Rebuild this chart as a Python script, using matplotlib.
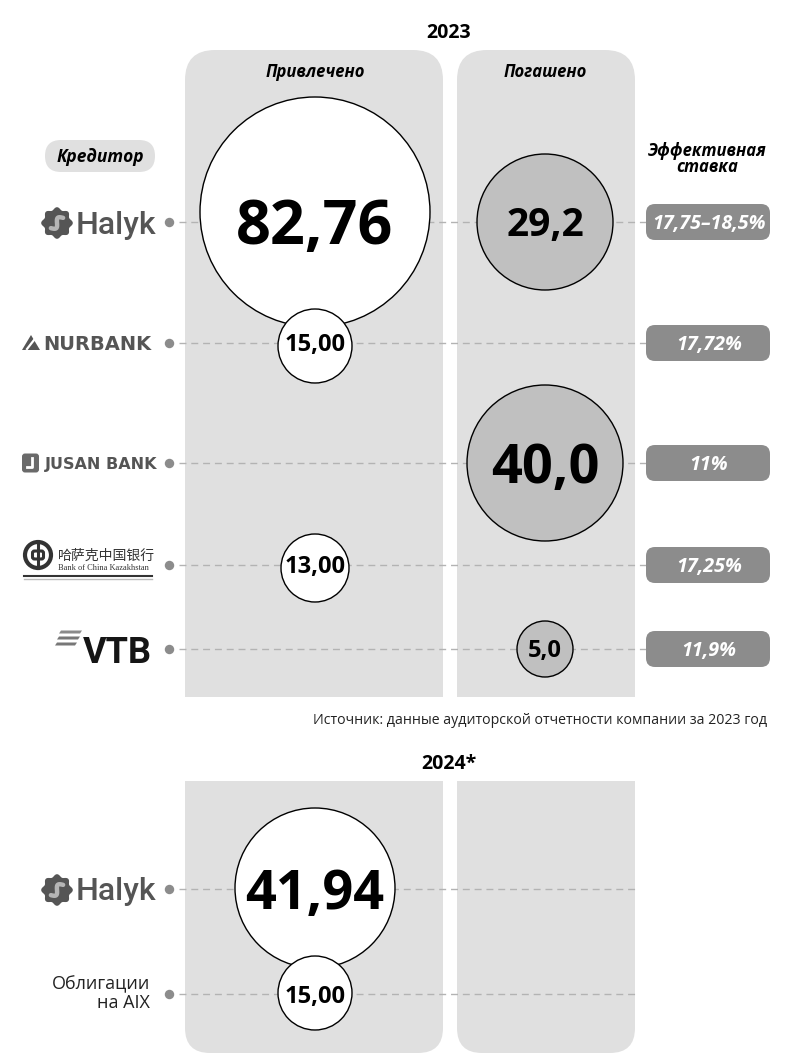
import matplotlib.pyplot as plt
import numpy as np
from matplotlib.patches import Circle, FancyBboxPatch, Rectangle, Polygon

plt.rcParams['font.family'] = ['Open Sans', 'DejaVu Sans']

# ---- data (млрд тенге) ----
creditors_2023 = ['Halyk', 'Nurbank', 'Jusan Bank', 'Bank of China', 'VTB']
raised_2023 = [82.76, 15.00, None, 13.00, None]
repaid_2023 = [29.2, None, 40.0, None, 5.0]
rates_2023 = ['17,75–18,5%', '17,72%', '11%', '17,25%', '11,9%']

creditors_2024 = ['Halyk', 'Облигации\nна AIX']
raised_2024 = [41.94, 15.00]
repaid_2024 = [None, None]

# ---- layout / style (pixels) ----
rows_2023 = [222, 343, 463, 565, 649]
rows_2024 = [889, 994]
col_x = [315, 545]
raised_r_2023 = [115, 37, 0, 34, 0]
repaid_r_2023 = [68, 0, 78, 0, 28]
raised_r_2024 = [80, 37]
raised_fs_2023 = [44, 17, 0, 17, 0]
repaid_fs_2023 = [28, 0, 39, 0, 17]
raised_fs_2024 = [39, 17]

PANEL = '#e0e0e0'
LINE = '#b3b3b3'
DOT = '#8c8c8c'
BOX = '#8c8c8c'
FILL2 = '#c0c0c0'
LOGO = '#555555'

fig = plt.figure(figsize=(7.9, 10.55), dpi=100)
ax = fig.add_axes([0, 0, 1, 1])
ax.set_xlim(0, 790)
ax.set_ylim(1055, 0)
ax.axis('off')


def label(x, y, s, size, **kw):
    # centre the cap height of the text on y
    ax.text(x, y + 0.36 * size / 0.72, s, fontsize=size, va='baseline', **kw)


def panel(x0, x1, y0, y1, round_top, r=30):
    ax.add_patch(FancyBboxPatch((x0, y0), x1 - x0, y1 - y0,
                                boxstyle=f'round,pad=0,rounding_size={r}',
                                fc=PANEL, ec='none', zorder=0))
    if round_top:
        ax.add_patch(Rectangle((x0, y1 - 2 * r), x1 - x0, 2 * r, fc=PANEL, ec='none', zorder=0))
    else:
        ax.add_patch(Rectangle((x0, y0), x1 - x0, 2 * r, fc=PANEL, ec='none', zorder=0))


def row_line(y, x_end):
    ax.plot([179, x_end], [y, y], color=LINE, lw=1, ls=(0, (5, 3.5)), zorder=1)
    ax.plot(169, y, 'o', ms=6.8, color=DOT, mec='none', zorder=2)


def bubble(x, y, v, r, fs, fill, dec, dy=0):
    ax.add_patch(Circle((x, y + dy), r, fc=fill, ec='black', lw=1, zorder=3))
    s = f'{v:.{dec}f}'.replace('.', ',')
    label(x, y, s, fs, fontweight='bold', ha='center', color='black', zorder=4)


def halyk_logo(y):
    cx, cy = 57, y + 1
    t = np.linspace(0, 2 * np.pi, 200)
    rr = 14.5 * (1 + 0.09 * np.cos(8 * t))
    ax.add_patch(Polygon(np.c_[cx + rr * np.cos(t), cy + rr * np.sin(t)], fc=LOGO, ec='none', zorder=2))
    u = np.linspace(-1, 1, 50)
    lx, ly = 8 * u, -3.5 * np.sin(np.pi * u)
    a = np.deg2rad(-40)
    ax.plot(cx + lx * np.cos(a) - ly * np.sin(a), cy + lx * np.sin(a) + ly * np.cos(a),
            color='#b5b5b5', lw=3.2, solid_capstyle='round', zorder=3)
    label(76, y, 'Halyk', 23, family=['Roboto', 'DejaVu Sans'], fontweight='medium',
          color=LOGO, ha='left')


def nurbank_logo(y):
    ax.add_patch(Polygon([[22, y + 7], [31, y - 8], [40, y + 7]], fc=LOGO, ec='none', zorder=2))
    ax.plot([27, 34], [y + 6, y - 3], color='white', lw=1.6, zorder=3)
    label(43, y, 'NURBANK', 14, family=['DejaVu Sans'], fontweight='bold', color=LOGO, ha='left')


def jusan_logo(y):
    ax.add_patch(FancyBboxPatch((22, y - 9.5), 17, 19, boxstyle='round,pad=0,rounding_size=3',
                                fc='#6a6a6a', ec='none', zorder=2))
    ax.plot([32, 32, 27], [y - 5, y + 4, y + 4], color='white', lw=2, zorder=3)
    label(45, y, 'JUSAN BANK', 11.5, family=['DejaVu Sans'], fontweight='bold', color=LOGO, ha='left')


def boc_logo(y):
    cx, cy = 38, y - 10
    ax.add_patch(Circle((cx, cy), 13, fc='none', ec='#333333', lw=3, zorder=2))
    ax.add_patch(FancyBboxPatch((cx - 5.5, cy - 4), 11, 8, boxstyle='round,pad=0,rounding_size=2',
                                fc='none', ec='#333333', lw=2.2, zorder=2))
    ax.plot([cx, cx], [cy - 13, cy + 13], color='#333333', lw=2.2, zorder=2)
    ax.text(58, cy + 1, '哈萨克中国银行', fontsize=10, family=['Noto Sans CJK SC'],
            color='#333333', va='center', ha='left')
    ax.text(58, y + 3, 'Bank of China Kazakhstan', fontsize=6, family=['Liberation Serif'],
            color='#333333', va='center', ha='left')
    ax.plot([24, 152], [y + 11, y + 11], color='#333333', lw=1.5)
    ax.plot([24, 152], [y + 14, y + 14], color='#bbbbbb', lw=1)


def vtb_logo(y):
    bars = [(59, 82, y - 17, '#8a8a8a'), (57, 80, y - 11, '#777777'), (55, 77, y - 5, '#777777')]
    for x0, x1, yy, c in bars:
        ax.add_patch(Polygon([[x0, yy + 1.5], [x0 + 2, yy - 1.5], [x1, yy - 1.5], [x1 - 2, yy + 1.5]],
                             fc=c, ec='none', zorder=2))
    label(83, y + 1, 'VTB', 26, family=['Roboto', 'DejaVu Sans'], fontweight='bold', color='#151515', ha='left')


logos = {'Halyk': halyk_logo, 'Nurbank': nurbank_logo, 'Jusan Bank': jusan_logo,
         'Bank of China': boc_logo, 'VTB': vtb_logo}

# ================= 2023 =================
label(449, 31, '2023', 14, fontweight='bold', ha='center')
panel(185, 443, 50, 697, True)
panel(457, 635, 50, 697, True)
label(col_x[0], 71, 'Привлечено', 12, fontweight='bold', style='italic', ha='center')
label(col_x[1], 71, 'Погашено', 12, fontweight='bold', style='italic', ha='center')

ax.add_patch(FancyBboxPatch((45, 140), 110, 32, boxstyle='round,pad=0,rounding_size=16',
                            fc=PANEL, ec='none', zorder=0))
label(100, 156, 'Кредитор', 12.5, fontweight='bold', style='italic', ha='center')
ax.text(707, 159, 'Эффективная\nставка', fontsize=12, fontweight='bold', style='italic',
        ha='center', va='center', linespacing=0.9)

for i, name in enumerate(creditors_2023):
    y = rows_2023[i]
    row_line(y, 646)
    logos[name](y)
    if raised_2023[i] is not None:
        bubble(col_x[0], y, raised_2023[i], raised_r_2023[i], raised_fs_2023[i], 'white', 2,
               dy=-10 if i == 0 else 3)
    if repaid_2023[i] is not None:
        bubble(col_x[1], y, repaid_2023[i], repaid_r_2023[i], repaid_fs_2023[i], FILL2, 1)
    ax.add_patch(FancyBboxPatch((646, y - 18), 124, 36, boxstyle='round,pad=0,rounding_size=9',
                                fc=BOX, ec='none', zorder=2))
    label(709, y, rates_2023[i], 14.2, fontweight='bold', style='italic', color='white',
          ha='center', zorder=3)

ax.text(767, 720, 'Источник: данные аудиторской отчетности компании за 2023 год',
        fontsize=10.2, ha='right', va='center', color='#222222')

# ================= 2024 =================
label(449, 762, '2024*', 14, fontweight='bold', ha='center')
panel(185, 443, 781, 1053, False, r=25)
panel(457, 635, 781, 1053, False, r=25)

for i, name in enumerate(creditors_2024):
    y = rows_2024[i]
    row_line(y, 635)
    if name in logos:
        logos[name](y)
    else:
        ax.text(150, y, name, fontsize=13, ha='right', va='center', color='#222222', linespacing=1.05)
    if raised_2024[i] is not None:
        bubble(col_x[0], y, raised_2024[i], raised_r_2024[i], raised_fs_2024[i], 'white', 2,
               dy=-1)

fig.savefig('out.png', dpi=100)
